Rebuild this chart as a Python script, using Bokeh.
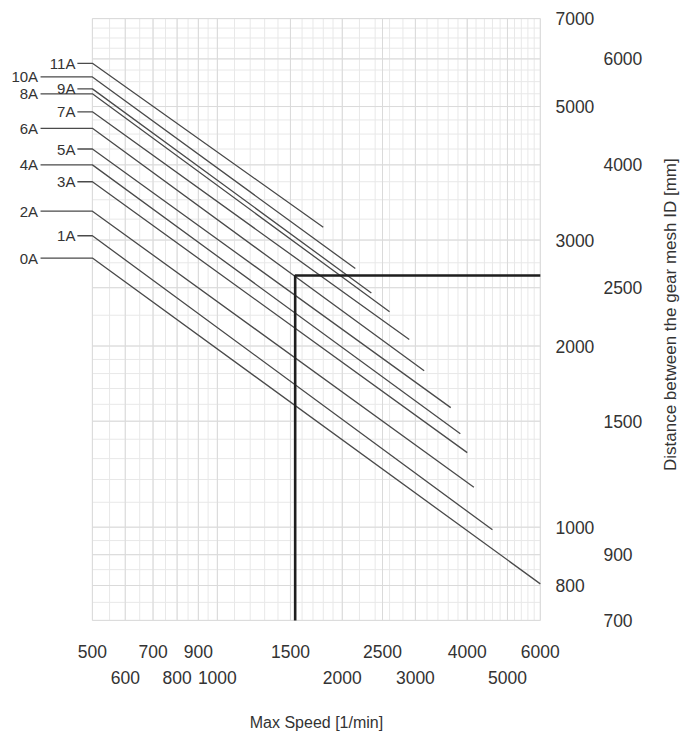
import math
from bokeh.plotting import figure
from bokeh.models import Range1d
from bokeh.core.properties import value
from bokeh.embed import file_html
from bokeh.resources import INLINE

# ---------------- data ----------------
models = ["0A", "1A", "2A", "3A", "4A", "5A", "6A", "7A", "8A", "9A", "10A", "11A"]
start_speed = 500
start_dist = [2800, 3050, 3350, 3750, 4000, 4250, 4600, 4900, 5250, 5350, 5600, 5900]
end_speed = [6000, 4600, 4150, 4000, 3850, 3650, 3150, 2900, 2600, 2350, 2150, 1800]
end_dist = [805, 990, 1165, 1330, 1430, 1580, 1820, 2050, 2280, 2450, 2690, 3150]

limit_speed = 1540
limit_dist = 2620
limit_speed_max = 6000
limit_dist_min = 700

x_ticks_row1 = [500, 700, 900, 1500, 2500, 4000, 6000]
x_ticks_row2 = [600, 800, 1000, 2000, 3000, 5000]
y_ticks_col1 = [7000, 5000, 3000, 2000, 1000, 800]
y_ticks_col2 = [6000, 4000, 2500, 1500, 900, 700]

grid_speeds = list(range(500, 1000, 50)) + list(range(1000, 2000, 100)) + list(range(2000, 6001, 200))
grid_dists = list(range(700, 1000, 50)) + list(range(1000, 2000, 100)) + list(range(2000, 7001, 250))

x_title = "Max Speed [1/min]"
y_title = "Distance between the gear mesh ID [mm]"

# ---------------- layout / style (positions in data units of the log scales) ----------------
FONT = "Liberation Sans"
TXT = "#333333"
stub_start = {0: 375, 1: 460}   # speed where the label stub begins (left / right label column)
label_right = {0: 370, 1: 455}  # speed of the right edge of the label text
x_row1_dist = 621.6             # distance level of first row of speed labels (below the chart)
x_row2_dist = 562.9             # second row
y_col1_speed = 6524             # speed position (left edge) of first column of distance labels
y_col2_speed = 8514             # second column
x_title_pos = (1733, 474)
y_title_pos = (12350, 2255)

p = figure(width=682, height=739,
           x_axis_type="log", y_axis_type="log",
           x_range=Range1d(300.3, 13204), y_range=Range1d(443.8, 7502),
           x_axis_location=None, y_axis_location=None,
           toolbar_location=None, output_backend="svg",
           min_border=0, min_border_left=0, min_border_top=0,
           min_border_right=0, min_border_bottom=0)
p.outline_line_color = None
p.grid.visible = False
p.background_fill_color = "white"
p.border_fill_color = "white"

# faint grid
g_lo, g_hi = grid_dists[0], grid_dists[-1]
s_lo, s_hi = grid_speeds[0], grid_speeds[-1]
p.segment(x0=grid_speeds, y0=[g_lo] * len(grid_speeds), x1=grid_speeds, y1=[g_hi] * len(grid_speeds),
          line_color="#e8e8e8", line_width=1)
p.segment(x0=[s_lo] * len(grid_dists), y0=grid_dists, x1=[s_hi] * len(grid_dists), y1=grid_dists,
          line_color="#e8e8e8", line_width=1)
maj_x = x_ticks_row1 + x_ticks_row2
maj_y = y_ticks_col1 + y_ticks_col2
p.segment(x0=maj_x, y0=[g_lo] * len(maj_x), x1=maj_x, y1=[g_hi] * len(maj_x),
          line_color="#dadada", line_width=1)
p.segment(x0=[s_lo] * len(maj_y), y0=maj_y, x1=[s_hi] * len(maj_y), y1=maj_y,
          line_color="#dadada", line_width=1)

# model lines
xs, ys, lx = [], [], []
for i, m in enumerate(models):
    col = 0 if i % 2 == 0 else 1
    xs.append([stub_start[col], start_speed, end_speed[i]])
    ys.append([start_dist[i], start_dist[i], end_dist[i]])
    lx.append(label_right[col])
p.multi_line(xs=xs, ys=ys, line_color="#4a4a4a", line_width=1.3)

p.text(x=lx, y=start_dist, text=models, text_align="right", text_baseline="middle",
       text_font=value(FONT), text_font_size="15px", text_color=TXT)

# limit lines
p.line(x=[limit_speed, limit_speed, limit_speed_max], y=[limit_dist_min, limit_dist, limit_dist],
       line_color="#1e1e1e", line_width=2.6)

# tick labels (staggered rows / columns, as in the original nomogram)
tick_kw = dict(text_baseline="middle", text_font=value(FONT), text_font_size="17.5px", text_color=TXT)
p.text(x=x_ticks_row1, y=[x_row1_dist] * len(x_ticks_row1), text=[str(v) for v in x_ticks_row1],
       text_align="center", **tick_kw)
p.text(x=x_ticks_row2, y=[x_row2_dist] * len(x_ticks_row2), text=[str(v) for v in x_ticks_row2],
       text_align="center", **tick_kw)
p.text(x=[y_col1_speed] * len(y_ticks_col1), y=y_ticks_col1, text=[str(v) for v in y_ticks_col1],
       text_align="left", **tick_kw)
p.text(x=[y_col2_speed] * len(y_ticks_col2), y=y_ticks_col2, text=[str(v) for v in y_ticks_col2],
       text_align="left", **tick_kw)

# axis titles
p.text(x=[x_title_pos[0]], y=[x_title_pos[1]], text=[x_title], text_align="center",
       text_baseline="middle", text_font=value(FONT), text_font_size="16px", text_color=TXT)
p.text(x=[y_title_pos[0]], y=[y_title_pos[1]], text=[y_title], angle=math.pi / 2,
       text_align="center", text_baseline="middle", text_font=value(FONT),
       text_font_size="17px", text_color=TXT)

open("out.html", "w").write(file_html(p, INLINE))
